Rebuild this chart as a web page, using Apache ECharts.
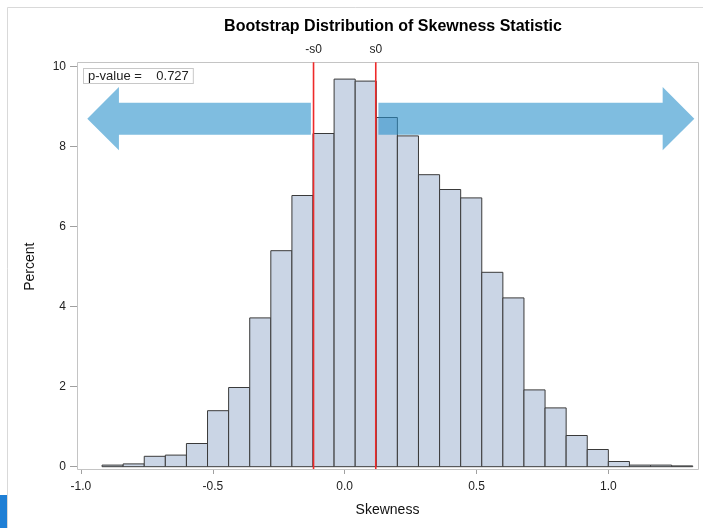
<!DOCTYPE html>
<html>
<head>
<meta charset="utf-8">
<script src="https://cdn.jsdelivr.net/npm/echarts@6/dist/echarts.min.js"></script>
<style>
  html, body { margin: 0; padding: 0; background: #fff; }
  #chart { width: 703px; height: 528px; }
</style>
</head>
<body>
<div id="chart"></div>
<script>
// Bootstrap skewness histogram: bin midpoints (width 0.08) and percent of resamples
const binWidth = 0.08;
const binCenters = [-0.88, -0.80, -0.72, -0.64, -0.56, -0.48, -0.40, -0.32, -0.24, -0.16, -0.08, 0.00,
                    0.08, 0.16, 0.24, 0.32, 0.40, 0.48, 0.56, 0.64, 0.72, 0.80, 0.88, 0.96,
                    1.04, 1.12, 1.20, 1.28];
const percents = [0.04, 0.07, 0.26, 0.29, 0.58, 1.40, 1.98, 3.72, 5.40, 6.78, 8.33, 9.69,
                  9.64, 8.73, 8.27, 7.30, 6.93, 6.72, 4.86, 4.22, 1.92, 1.47, 0.78, 0.43,
                  0.13, 0.04, 0.04, 0.02];

// Observed statistic and the two-sided p-value
const s0 = 0.118;
const pValue = '0.727';
const refValues = [-s0, s0];
const refLabels = ['-s0', 's0'];

// Arrows marking |skewness| > s0: [tail x, tip x, centre y]
const arrows = [[-0.128, -0.976, 8.7], [0.128, 1.326, 8.7]];

const xTicks = [-1.0, -0.5, 0.0, 0.5, 1.0];

// Plot frame extent in data units (a little padding around the axes)
const xMin = -1.015, xMax = 1.34;
const frameBottom = -0.06, frameTop = 10.11;

const FONT = '"Liberation Sans", Arial, Helvetica, sans-serif';

const chart = echarts.init(document.getElementById('chart'), null, { renderer: 'canvas' });

const histData = binCenters.map((c, i) => [c, percents[i]]);

function renderBin(params, api) {
  const c = api.value(0);
  const v = api.value(1);
  const p0 = api.coord([c - binWidth / 2, v]);
  const p1 = api.coord([c + binWidth / 2, 0]);
  return {
    type: 'rect',
    shape: { x: p0[0], y: p0[1], width: p1[0] - p0[0], height: p1[1] - p0[1] },
    style: { fill: '#CAD5E5', stroke: '#3a3a3a', lineWidth: 1 }
  };
}

function renderRefLine(params, api) {
  const v = api.value(0);
  const a = api.coord([v, frameBottom]);
  const b = api.coord([v, frameTop]);
  return {
    type: 'group',
    children: [
      {
        type: 'line',
        shape: { x1: a[0], y1: a[1], x2: b[0], y2: b[1] },
        style: { stroke: '#ee2a2a', lineWidth: 1.6 }
      },
      {
        type: 'text',
        x: b[0], y: b[1] - 7,
        style: {
          text: refLabels[params.dataIndex],
          align: 'center', verticalAlign: 'bottom',
          fontFamily: FONT, fontSize: 12, fill: '#222'
        }
      }
    ]
  };
}

function renderArrow(params, api) {
  const tail = api.value(0), tip = api.value(1), yc = api.value(2);
  const dir = tip > tail ? 1 : -1;
  const headLen = 0.12;     // along x, data units
  const shaftHalf = 0.40;   // along y, data units
  const headHalf = 0.79;
  const base = tip - dir * headLen;
  const pts = [
    [tail, yc + shaftHalf], [base, yc + shaftHalf], [base, yc + headHalf],
    [tip, yc], [base, yc - headHalf], [base, yc - shaftHalf], [tail, yc - shaftHalf]
  ].map(p => api.coord(p));
  return {
    type: 'polygon',
    shape: { points: pts },
    style: { fill: 'rgb(42,145,203)', opacity: 0.6 }
  };
}

const option = {
  backgroundColor: '#ffffff',
  animation: false,
  textStyle: { fontFamily: FONT },
  title: {
    text: 'Bootstrap Distribution of Skewness Statistic',
    left: 388,
    top: 14,
    textAlign: 'center',
    textStyle: { fontFamily: FONT, fontSize: 16, fontWeight: 'bold', color: '#000' }
  },
  grid: {
    left: 77, right: 5, top: 66.7, bottom: 61.3,
    show: false
  },
  xAxis: {
    type: 'value',
    min: xMin, max: xMax,
    offset: 2.3,
    name: 'Skewness',
    nameLocation: 'middle',
    nameGap: 34,
    nameTextStyle: { fontFamily: FONT, fontSize: 14, color: '#111' },
    axisLine: { show: false, onZero: false },
    axisTick: { show: true, customValues: xTicks, length: 5, lineStyle: { color: '#a0a0a0' } },
    axisLabel: { customValues: xTicks, formatter: v => v.toFixed(1), fontSize: 12, color: '#222', margin: 12, fontFamily: FONT },
    splitLine: { show: false }
  },
  yAxis: {
    type: 'value',
    min: 0, max: 10, interval: 2,
    name: 'Percent',
    nameLocation: 'middle',
    nameGap: 40,
    nameRotate: 90,
    nameTextStyle: { fontFamily: FONT, fontSize: 14, color: '#111' },
    axisLine: { show: false, onZero: false },
    axisTick: { show: true, length: 7, lineStyle: { color: '#a0a0a0' } },
    axisLabel: { fontSize: 12, color: '#222', margin: 11, fontFamily: FONT },
    splitLine: { show: false }
  },
  series: [
    {
      type: 'custom',
      name: 'Histogram',
      renderItem: renderBin,
      data: histData,
      encode: { x: 0, y: 1 },
      z: 2
    },
    {
      type: 'custom',
      name: 'Reference lines',
      renderItem: renderRefLine,
      data: refValues.map(v => [v, frameTop]),
      encode: { x: 0, y: 1 },
      z: 4,
      silent: true
    },
    {
      type: 'custom',
      name: 'Arrows',
      renderItem: renderArrow,
      data: arrows,
      encode: { x: [0, 1], y: 2 },
      z: 3,
      silent: true
    }
  ],
  graphic: [
    {
      id: 'outer', type: 'rect', z: -10, silent: true,
      shape: { x: 7.5, y: 7.5, width: 760, height: 560 },
      style: { fill: 'none', stroke: '#d9d9d9', lineWidth: 1 }
    },
    {
      id: 'corner', type: 'rect', z: 10, silent: true,
      shape: { x: 0, y: 495, width: 7, height: 33 },
      style: { fill: '#1f7fd5' }
    },
    {
      id: 'pval', type: 'text', left: 83, top: 68, z: 20, silent: true,
      style: {
        text: 'p-value =    ' + pValue,
        fontFamily: FONT, fontSize: 13, fill: '#222',
        backgroundColor: '#fff', borderColor: '#c8c8c8', borderWidth: 1,
        padding: [1, 4, 0, 4]
      }
    }
  ]
};

chart.setOption(option);

// Plot frame drawn around the padded data extent
const tl = chart.convertToPixel({ gridIndex: 0 }, [xMin, frameTop]);
const br = chart.convertToPixel({ gridIndex: 0 }, [xMax, frameBottom]);
chart.setOption({
  graphic: [{
    id: 'frame', type: 'rect', z: 1, silent: true,
    shape: {
      x: Math.round(tl[0]) + 0.5, y: Math.round(tl[1]) + 0.5,
      width: Math.round(br[0]) - Math.round(tl[0]), height: Math.round(br[1]) - Math.round(tl[1])
    },
    style: { fill: 'none', stroke: '#c4c4c4', lineWidth: 1 }
  }]
});
</script>
</body>
</html>
